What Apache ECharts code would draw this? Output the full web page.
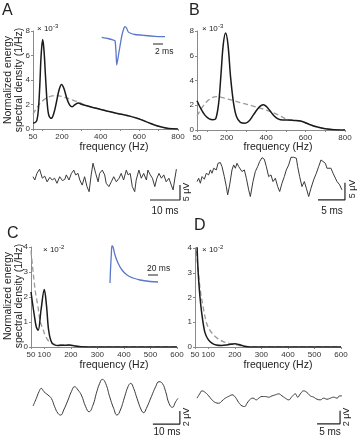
<!DOCTYPE html>
<html><head><meta charset="utf-8">
<script src="https://cdn.jsdelivr.net/npm/echarts@6/dist/echarts.min.js"></script>
<style>html,body{margin:0;padding:0;background:#fff}#c{width:359px;height:436px}</style>
</head><body><div id="c"></div>
<script>
// ---- spectral densities (A,B in 1e-3 /Hz ; C,D in 1e-2 /Hz) ----
const specA_solid = [[50,0.5],[60,0.52],[70,0.7],[78,1.6],[85,3.5],[92,6.0],[100,7.3],[107,6.4],[115,4.2],[123,2.2],[132,1.1],[145,0.87],[158,1.3],[170,2.1],[185,3.2],[198,3.63],[210,3.3],[225,2.5],[240,1.95],[253,1.82],[268,2.0],[285,2.12],[300,2.02],[350,1.8],[400,1.6],[450,1.4],[500,1.22],[550,1.05],[600,0.82],[650,0.5],[700,0.22],[750,0.05],[800,0.01]];
const specA_dashed = [[50,1.2],[75,1.85],[100,2.3],[125,2.58],[150,2.7],[175,2.72],[200,2.65],[225,2.52],[250,2.38],[275,2.25],[300,2.1],[325,1.92],[350,1.8],[400,1.6],[450,1.4],[500,1.22],[550,1.05],[600,0.82],[650,0.5],[700,0.22],[750,0.05],[800,0.01]];
const specB_solid = [[50,2.36],[70,1.7],[90,1.2],[110,0.92],[130,0.82],[145,0.9],[160,2.2],[172,4.6],[183,6.9],[195,7.83],[207,6.9],[220,4.3],[235,2.2],[250,1.1],[270,0.62],[294,0.54],[315,0.75],[335,1.2],[355,1.65],[372,1.95],[387,2.05],[402,1.9],[420,1.55],[440,1.15],[460,0.9],[485,0.8],[506,0.8],[540,0.77],[575,0.72],[620,0.45],[660,0.24],[700,0.1],[745,0.03],[800,0.0]];
const specB_dashed = [[50,1.14],[75,1.8],[100,2.3],[125,2.6],[150,2.7],[200,2.52],[268,2.22],[330,1.95],[387,1.68],[450,1.3],[506,0.87],[540,0.78],[575,0.72],[620,0.45],[660,0.24],[700,0.1],[745,0.03],[800,0]];
const specC_solid = [[50,2.2],[62,1.3],[70,0.8],[77,0.67],[88,1.5],[100,2.3],[108,1.7],[116,0.7],[125,0.25],[135,0.1],[150,0.06],[175,0.07],[195,0.08],[215,0.04],[240,0.01],[300,0],[600,0]];
const specC_dashed = [[50,3.85],[56,3.2],[62,2.6],[68,2.1],[75,1.7],[85,1.0],[94,0.75],[103,0.48],[112,0.3],[125,0.16],[140,0.1],[160,0.08],[185,0.08],[210,0.05],[240,0.01],[300,0],[600,0]];
const specD_solid = [[50,8],[58,4.0],[62,3.0],[68,2.1],[75,1.4],[87,0.6],[100,0.3],[115,0.15],[130,0.08],[150,0.06],[175,0.09],[200,0.13],[215,0.1],[235,0.03],[260,0.005],[300,0],[600,0]];
const specD_dashed = [[50,5.5],[55,4.0],[62,3.1],[70,2.3],[81,1.6],[94,0.95],[106,0.68],[119,0.5],[131,0.38],[156,0.22],[180,0.14],[200,0.1],[230,0.04],[260,0.01],[300,0],[600,0]];

// axis ticks / labels
const ticksAB = [50,100,200,300,400,500,600,700,800];
const labelsAB = [50,200,400,600,800];
const ticksCD = [50,100,200,300,400,500,600];
const labelsCD = [50,100,200,300,400,500,600];

// ---- insets (ms, arbitrary units) ----
const spikeA = [[0,0.7],[1.26,-0.5],[2.26,-2],[2.66,-2.7],[2.86,-14],[3.0,-27],[3.26,-20],[3.66,-8],[4.06,3],[4.46,10],[4.66,11.3],[4.96,10],[5.26,6.5],[5.66,5],[6.66,3.5],[8.66,2.5],[10.66,1.7],[12.66,1.3]];
const epspC = [[0,0],[1,13],[2.6,28],[4,37],[6,36],[10,28],[16,20],[24,13],[34,8],[46,5],[60,3],[80,1.5],[96,1]];

// ---- voltage traces (ms, µV) ----
const traceA = [[0,1.1],[0.6,0],[1.3,2.2],[2.2,3.6],[3.1,0.6],[3.9,1.3],[4.7,-0.6],[5.6,0.9],[6.4,0],[7.2,0.6],[8.0,-1.1],[8.9,1.1],[9.8,-0.2],[10.6,0.2],[11.1,1.7],[12.0,0],[12.8,2.2],[13.6,3.3],[14.2,1.7],[15.0,2.2],[15.6,0],[16.4,-1.7],[17.2,1.1],[18.0,-2.2],[18.7,-3.9],[19.4,1.7],[20.0,5.6],[20.9,2.2],[21.7,-0.6],[22.2,2.2],[23.1,3.3],[23.9,1.7],[24.4,-1.1],[25.3,-2.2],[26.1,-0.6],[26.9,1.1],[27.8,-0.6],[28.7,0.6],[29.4,2.2],[30.2,0],[31.1,3.3],[31.7,1.7],[32.4,2.2],[33.1,-2.2],[33.9,-3.9],[34.4,0],[35.3,3.3],[36.1,0.6],[36.9,2.2],[37.8,0],[38.3,3.3],[39.1,1.7],[39.8,0.6],[40.6,-2.2],[41.3,0.6],[42.0,2.2],[42.8,0.6],[43.6,1.7],[44.4,-0.6],[45.3,0.6],[46.1,-1.7],[46.7,-3.3],[47.2,0],[47.8,3.6]];
const traceB = [[0,-1.46],[0.31,-0.49],[0.62,-1.94],[0.93,0],[1.36,-0.78],[1.73,0.97],[2.16,0.49],[2.47,1.94],[2.78,0.97],[3.09,2.43],[3.58,1.94],[3.89,3.88],[4.32,4.08],[4.63,2.91],[5.06,0],[5.43,-2.91],[5.68,-5.34],[6.05,-2.43],[6.48,1.94],[6.79,3.40],[7.10,2.43],[7.41,3.88],[7.72,2.91],[8.02,3.40],[8.33,1.46],[8.77,1.94],[9.14,-0.49],[9.57,-3.88],[9.88,-5.83],[10.37,-1.46],[10.80,1.46],[11.23,2.91],[11.60,4.37],[12.04,5.53],[12.47,5.05],[12.84,2.91],[13.27,0],[13.70,0.49],[14.07,-1.46],[14.51,-0.49],[14.94,-2.91],[15.31,-4.37],[15.74,-1.94],[16.17,0],[16.54,1.94],[16.98,3.40],[17.41,5.63],[17.90,5.63],[18.40,5.34],[18.64,2.91],[19.01,0],[19.44,-2.91],[19.88,-1.46],[20.25,-3.40],[20.68,-5.83],[21.11,-3.40],[21.60,-0.97],[22.10,0.97],[22.53,2.91],[22.96,4.85],[23.33,5.34],[23.77,3.88],[24.07,2.43],[24.38,1.94],[24.81,2.43],[25.19,0.97],[25.43,0.49],[25.93,-1.46],[26.42,-2.43],[26.85,-3.88]];
const traceC = [[0,-0.63],[1.23,0.55],[2.22,1.57],[3.09,2.08],[4.07,1.57],[5.56,1.06],[6.79,0.55],[8.02,-0.73],[9.26,-1.76],[10.25,-2.01],[11.36,-1.24],[12.96,0.29],[14.20,1.57],[15.43,2.34],[16.67,1.83],[17.90,1.06],[19.51,-0.73],[20.74,-1.50],[22.22,-0.48],[23.46,1.32],[24.69,2.85],[25.68,3.47],[26.91,2.85],[28.40,0.80],[29.88,-0.99],[31.11,-2.01],[32.35,-1.24],[33.95,0.80],[35.19,2.34],[36.17,2.85],[37.28,2.08],[38.52,0.55],[40.12,-1.24],[40.99,-1.65],[41.98,-0.99],[43.83,0.80],[45.43,2.34],[46.67,3.11],[47.90,2.85],[49.14,1.57],[50.37,-0.22],[51.60,-0.83],[52.84,0.04],[53.70,0.55]];
const traceD = [[0,0],[0.58,0.66],[1.09,1.12],[1.81,0.87],[2.54,0.35],[3.26,-0.26],[3.99,-0.67],[4.71,-0.78],[5.43,-0.42],[6.16,0],[7.10,0.35],[7.61,0.51],[8.33,0.15],[9.06,-0.67],[9.78,-1.19],[10.36,-1.29],[10.87,-0.78],[11.59,-0.16],[12.17,0],[12.90,-0.26],[13.41,0],[14.13,0.25],[14.86,0.25],[15.58,0.15],[16.30,0.35],[17.03,0.51],[17.75,0.66],[18.48,0.35],[19.20,0],[19.93,-0.26],[20.65,0.25],[21.38,0.66],[21.88,0.15],[22.46,0.66],[23.19,1.12],[23.91,0.87],[24.64,0.35],[25.36,0.15],[26.09,-0.16],[26.81,-0.26],[27.54,0],[28.26,-0.16],[28.99,0],[29.71,0.15],[30.43,0],[31.01,0.35],[31.52,0.35]];

const FONT = '"Liberation Sans", Arial, Helvetica, sans-serif';
const AX = '#8a8a8a';

function specXAxis(grid, max, ticks, labels){
  return {type:'value', gridIndex:grid, min:50, max:max,
    axisLine:{show:true, lineStyle:{color:AX, width:1}},
    axisTick:{show:true, customValues:ticks, length:2, lineStyle:{color:AX}},
    axisLabel:{show:true, customValues:labels, fontSize:8, color:'#333', margin:4, fontFamily:FONT},
    splitLine:{show:false}};
}
function specYAxis(grid, max){
  return {type:'value', gridIndex:grid, min:0, max:max, interval: max===8?2:1,
    axisLine:{show:true, onZero:false, lineStyle:{color:AX, width:1}},
    axisTick:{show:true, length:2, lineStyle:{color:AX}},
    axisLabel:{fontSize:8, color:'#333', margin:3, fontFamily:FONT},
    splitLine:{show:false}};
}
function hiddenAxis(grid, min, max){
  return {type:'value', gridIndex:grid, min:min, max:max, show:false, splitLine:{show:false}};
}

const grids = [
  {left:33, top:31, width:145, height:98},
  {left:197, top:31, width:148, height:99},
  {left:31, top:247, width:146, height:100},
  {left:195, top:248, width:146, height:99},
  {left:101.7, top:22, width:67, height:48},
  {left:110, top:240, width:50, height:45},
  {left:33, top:156, width:150, height:48},
  {left:197, top:156, width:153, height:48},
  {left:33, top:372, width:150, height:56},
  {left:197, top:380, width:155, height:48}
];

const xAxis = [
  specXAxis(0,800,ticksAB,labelsAB), specXAxis(1,800,ticksAB,labelsAB),
  specXAxis(2,600,ticksCD,labelsCD), specXAxis(3,600,ticksCD,labelsCD),
  hiddenAxis(4,0,13.4), hiddenAxis(5,0,100),
  hiddenAxis(6,0,50), hiddenAxis(7,0,153/5.4), hiddenAxis(8,0,150/2.7), hiddenAxis(9,0,155/4.6)
];
const yAxis = [
  specYAxis(0,8), specYAxis(1,8), specYAxis(2,4), specYAxis(3,4),
  hiddenAxis(4,-32,16), hiddenAxis(5,-2,43),
  hiddenAxis(6,-8,8), hiddenAxis(7,-8,6), hiddenAxis(8,-4.0,4.6), hiddenAxis(9,-4.6,2.8)
];

function solid(i, data){ return {type:'line', xAxisIndex:i, yAxisIndex:i, data:data, smooth:0.35, symbol:'none', z:3,
  lineStyle:{color:'#1a1a1a', width:1.5}}; }
function dashed(i, data){ return {type:'line', xAxisIndex:i, yAxisIndex:i, data:data, smooth:0.35, symbol:'none', z:2,
  lineStyle:{color:'#9a9a9a', width:1.3, type:[5,3]}}; }
function trace(i, data, sm){ return {type:'line', xAxisIndex:i, yAxisIndex:i, data:data, smooth:sm, symbol:'none', clip:false,
  lineStyle:{color:'#3a3a3a', width:1}}; }
function bar(i, pts){ return {type:'line', xAxisIndex:i, yAxisIndex:i, data:pts, symbol:'none', clip:false, smooth:false,
  lineStyle:{color:'#222', width:1.2}}; }

const series = [
  dashed(0,specA_dashed), solid(0,specA_solid),
  dashed(1,specB_dashed), solid(1,specB_solid),
  dashed(2,specC_dashed), solid(2,specC_solid),
  dashed(3,specD_dashed), solid(3,specD_solid),
  {type:'line', xAxisIndex:4, yAxisIndex:4, data:spikeA, smooth:0.2, symbol:'none', lineStyle:{color:'#5b78c8', width:1.3}},
  {type:'line', xAxisIndex:5, yAxisIndex:5, data:epspC, smooth:0.4, symbol:'none', lineStyle:{color:'#5b78c8', width:1.3}},
  trace(6,traceA,false), trace(7,traceB,false), trace(8,traceC,0.5), trace(9,traceD,0.5),
  // scale bars
  bar(4, [[10.26,-6],[12.26,-6]]),
  bar(5, [[76,8],[96,8]]),
  bar(6, [[39,-6.67],[49,-6.67],[49,-1.67]]),
  bar(7, [[22.4,-6.8],[27.4,-6.8],[27.4,-1.8]]),
  bar(8, [[44.4,-3.4],[54.4,-3.4],[54.4,-1.4]]),
  bar(9, [[26.1,-3.95],[31.1,-3.95],[31.1,-1.95]])
];

function T(text, x, y, size, opts){
  opts = opts || {};
  return {type:'text', x:x, y:y, rotation:opts.rot||0, silent:true,
    style:{text:text, fontSize:size, fontFamily:FONT, fill:opts.color||'#222',
      textAlign:opts.align||'left', align:opts.align||'left',
      textVerticalAlign:'middle', verticalAlign:'middle'}};
}
const R = Math.PI/2;
const graphic = [
  T('A',2,11,16), T('B',189,11,16), T('C',7,234,16), T('D',194,226,16),
  T('× 10',37,29,8), T('-3',53,26,6),
  T('× 10',202,29,8), T('-3',218,26,6),
  T('× 10',43,250,8), T('-2',59,247,6),
  T('× 10',202,250,8), T('-2',218,247,6),
  T('Normalized energy',8,80,10.5,{rot:R,align:'center'}),
  T('spectral density (1/Hz)',19,80,10.5,{rot:R,align:'center'}),
  T('Normalized energy',8,296,10.5,{rot:R,align:'center'}),
  T('spectral density (1/Hz)',19,296,10.5,{rot:R,align:'center'}),
  T('frequency (Hz)',114,147,10.5,{align:'center'}),
  T('frequency (Hz)',278,147,10.5,{align:'center'}),
  T('frequency (Hz)',114,365,10.5,{align:'center'}),
  T('frequency (Hz)',278,365,10.5,{align:'center'}),
  T('2 ms',155,52,8.5),
  T('20 ms',147,269,8.5),
  T('10 ms',165,211,10,{align:'center'}),
  T('5 μV',187,192,9,{rot:R,align:'center'}),
  T('5 ms',332,211,10,{align:'center'}),
  T('5 μV',353,189,9,{rot:R,align:'center'}),
  T('10 ms',167,432,10,{align:'center'}),
  T('2 μV',187,417,9,{rot:R,align:'center'}),
  T('5 ms',330,432,10,{align:'center'}),
  T('2 μV',347,417,9,{rot:R,align:'center'})
];

const chart = echarts.init(document.getElementById('c'));
chart.setOption({animation:false, backgroundColor:'#fff', grid:grids, xAxis:xAxis, yAxis:yAxis, series:series, graphic:graphic});
</script></body></html>
